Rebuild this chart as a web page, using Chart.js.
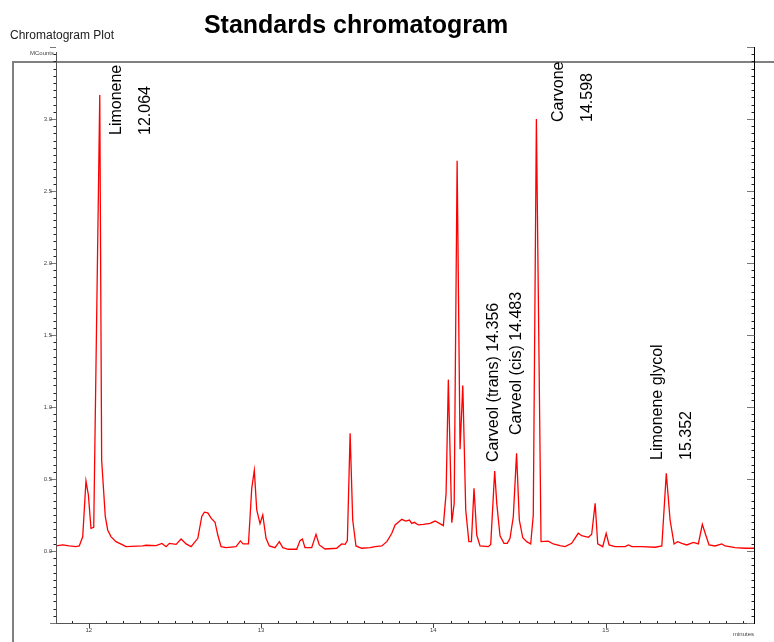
<!DOCTYPE html>
<html>
<head>
<meta charset="utf-8">
<script src="https://cdn.jsdelivr.net/npm/chart.js@4/dist/chart.umd.min.js"></script>
<style>
  html, body { margin: 0; padding: 0; background: #ffffff; }
  #wrap { width: 774px; height: 642px; position: relative; }
</style>
</head>
<body>
<div id="wrap"><canvas id="chrom" width="774" height="642"></canvas></div>
<script>
// Detector trace: retention time (minutes) and response (MCounts)
const retentionTimes = [
  11.810, 11.849, 11.886, 11.926, 11.945, 11.965, 11.984, 11.998, 12.013, 12.029,
  12.064, 12.075, 12.096, 12.110, 12.129, 12.158, 12.197, 12.216, 12.313, 12.333,
  12.391, 12.425, 12.449, 12.468, 12.507, 12.536, 12.565, 12.594, 12.633, 12.656,
  12.671, 12.691, 12.710, 12.733, 12.749, 12.768, 12.797, 12.855, 12.880, 12.896,
  12.927, 12.946, 12.961, 12.975, 12.994, 13.010, 13.029, 13.048, 13.081, 13.106,
  13.126, 13.158, 13.207, 13.226, 13.240, 13.255, 13.294, 13.319, 13.338, 13.371,
  13.439, 13.468, 13.488, 13.501, 13.517, 13.532, 13.551, 13.584, 13.633, 13.662,
  13.701, 13.730, 13.759, 13.778, 13.817, 13.840, 13.861, 13.875, 13.890, 13.913,
  13.942, 13.981, 14.010, 14.058, 14.074, 14.087, 14.107, 14.121, 14.138, 14.155,
  14.171, 14.188, 14.206, 14.221, 14.236, 14.252, 14.271, 14.319, 14.333, 14.356,
  14.368, 14.387, 14.410, 14.429, 14.445, 14.464, 14.483, 14.499, 14.519, 14.542,
  14.565, 14.580, 14.598, 14.625, 14.667, 14.696, 14.735, 14.764, 14.803, 14.841,
  14.861, 14.900, 14.919, 14.939, 14.954, 14.983, 15.003, 15.020, 15.055, 15.113,
  15.132, 15.152, 15.209, 15.287, 15.326, 15.352, 15.374, 15.397, 15.418, 15.442,
  15.471, 15.509, 15.538, 15.561, 15.581, 15.600, 15.635, 15.674, 15.693, 15.751,
  15.809, 15.861
];
const responseMCounts = [
  0.035, 0.042, 0.035, 0.030, 0.035, 0.099, 0.486, 0.389, 0.158, 0.165,
  3.167, 0.630, 0.240, 0.146, 0.100, 0.065, 0.042, 0.030, 0.035, 0.040,
  0.037, 0.053, 0.030, 0.053, 0.046, 0.083, 0.049, 0.030, 0.088, 0.240,
  0.270, 0.265, 0.228, 0.200, 0.111, 0.030, 0.023, 0.030, 0.070, 0.049,
  0.049, 0.435, 0.560, 0.285, 0.190, 0.250, 0.088, 0.035, 0.023, 0.065,
  0.023, 0.012, 0.012, 0.072, 0.083, 0.023, 0.023, 0.116, 0.042, 0.014,
  0.019, 0.049, 0.046, 0.072, 0.817, 0.215, 0.035, 0.019, 0.023, 0.030,
  0.035, 0.065, 0.123, 0.181, 0.220, 0.208, 0.215, 0.192, 0.199, 0.181,
  0.185, 0.192, 0.208, 0.176, 0.400, 1.190, 0.197, 0.331, 2.710, 0.706,
  1.150, 0.285, 0.065, 0.065, 0.435, 0.111, 0.035, 0.030, 0.046, 0.556,
  0.331, 0.106, 0.053, 0.053, 0.088, 0.238, 0.678, 0.215, 0.092, 0.065,
  0.049, 0.250, 3.000, 0.065, 0.069, 0.049, 0.037, 0.030, 0.053, 0.123,
  0.106, 0.095, 0.116, 0.331, 0.049, 0.030, 0.123, 0.042, 0.030, 0.030,
  0.042, 0.030, 0.030, 0.026, 0.035, 0.540, 0.215, 0.049, 0.065, 0.053,
  0.042, 0.060, 0.049, 0.185, 0.111, 0.042, 0.035, 0.049, 0.035, 0.023,
  0.019, 0.019
];

// Identified compounds and their retention times
const peakNames = ['Limonene', 'Carveol (trans)', 'Carveol (cis)', 'Carvone', 'Limonene glycol'];
const peakTimes = [12.064, 14.356, 14.483, 14.598, 15.352];

// Axis labels
const yTickLabels = ['0.0', '0.5', '1.0', '1.5', '2.0', '2.5', '3.0'];
const xTickLabels = ['12', '13', '14', '15'];

// Placement of each peak label: offset from the peak, bottom edge, and whether
// the retention time goes on a second column
const peakLabelStyle = [
  { dx: 21, bottom: 135, split: true },
  { dx: 3, bottom: 462, split: false },
  { dx: 4, bottom: 435, split: false },
  { dx: 27, bottom: 122, split: true },
  { dx: -4, bottom: 460, split: true }
];

const points = retentionTimes.map((t, i) => ({ x: t, y: responseMCounts[i] }));

const FONT = '"Liberation Sans", Arial, Helvetica, sans-serif';

const chromDecor = {
  id: 'chromDecor',
  afterDraw(chart) {
    const ctx = chart.ctx;
    const xs = chart.scales.x;
    const ys = chart.scales.y;
    const area = chart.chartArea;
    const L = area.left, R = area.right, T = area.top, B = area.bottom;

    ctx.save();

    // Outer frame
    ctx.strokeStyle = '#808080';
    ctx.lineWidth = 2;
    ctx.beginPath();
    ctx.moveTo(13, 642);
    ctx.lineTo(13, 62);
    ctx.lineTo(774, 62);
    ctx.stroke();

    // Headings
    ctx.fillStyle = '#000';
    ctx.font = 'bold 25px ' + FONT;
    ctx.textAlign = 'center';
    ctx.textBaseline = 'alphabetic';
    ctx.fillText('Standards chromatogram', 356, 33);
    ctx.font = '12px ' + FONT;
    ctx.textAlign = 'left';
    ctx.fillStyle = '#222';
    ctx.fillText('Chromatogram Plot', 10, 39);

    // Axis lines
    ctx.lineWidth = 1;
    ctx.strokeStyle = '#555';
    ctx.beginPath();
    ctx.moveTo(L + 0.5, 52);
    ctx.lineTo(L + 0.5, B);
    ctx.moveTo(L, B + 0.5);
    ctx.lineTo(R, B + 0.5);
    ctx.stroke();
    ctx.strokeStyle = '#000';
    ctx.beginPath();
    ctx.moveTo(R + 0.5, T);
    ctx.lineTo(R + 0.5, B + 1);
    ctx.stroke();

    // Y ticks every 0.05, longer at every 0.5
    for (let k = -10; k <= 70; k++) {
      const v = k * 0.05;
      const py = Math.round(ys.getPixelForValue(v)) + 0.5;
      const major = k % 10 === 0;
      ctx.strokeStyle = major ? '#777' : '#222';
      ctx.beginPath();
      ctx.moveTo(L - (major ? 6 : 2.5), py);
      ctx.lineTo(L, py);
      ctx.moveTo(R - (major ? 7 : 2.5), py);
      ctx.lineTo(R, py);
      ctx.stroke();
    }

    // Y tick labels
    ctx.fillStyle = '#444';
    ctx.font = '6px ' + FONT;
    ctx.textAlign = 'right';
    ctx.textBaseline = 'middle';
    yTickLabels.forEach(lbl => {
      const py = ys.getPixelForValue(parseFloat(lbl));
      ctx.fillText(lbl, L - 4, py);
    });
    ctx.textAlign = 'right';
    ctx.textBaseline = 'alphabetic';
    ctx.fillText('MCounts', L - 2, 55);

    // X ticks every 0.1 min, longer at whole minutes
    for (let k = 119; k <= 158; k++) {
      const t = k / 10;
      const px = Math.round(xs.getPixelForValue(t)) + 0.5;
      const major = k % 10 === 0;
      ctx.strokeStyle = major ? '#444' : '#222';
      ctx.beginPath();
      if (major) {
        ctx.moveTo(px, B);
        ctx.lineTo(px, B + 5);
      } else {
        ctx.moveTo(px, B - 2);
        ctx.lineTo(px, B);
      }
      ctx.stroke();
    }
    ctx.fillStyle = '#444';
    ctx.textAlign = 'center';
    ctx.textBaseline = 'middle';
    xTickLabels.forEach(lbl => {
      ctx.fillText(lbl, xs.getPixelForValue(parseFloat(lbl)), B + 7);
    });
    ctx.textAlign = 'right';
    ctx.fillText('minutes', R, B + 11);

    // Peak labels, written vertically
    ctx.fillStyle = '#000';
    ctx.font = '16px ' + FONT;
    ctx.textAlign = 'left';
    ctx.textBaseline = 'alphabetic';
    peakNames.forEach((name, i) => {
      const st = peakLabelStyle[i];
      const timeText = peakTimes[i].toFixed(3);
      const lines = st.split ? [name, timeText] : [name + ' ' + timeText];
      const px = xs.getPixelForValue(peakTimes[i]) + st.dx;
      lines.forEach((line, j) => {
        ctx.save();
        ctx.translate(px + j * 29, st.bottom);
        ctx.rotate(-Math.PI / 2);
        ctx.fillText(line, 0, 0);
        ctx.restore();
      });
    });

    ctx.restore();
  }
};

new Chart(document.getElementById('chrom'), {
  type: 'scatter',
  data: {
    datasets: [{
      data: points,
      showLine: true,
      borderColor: '#ff0000',
      borderWidth: 1.3,
      pointRadius: 0,
      tension: 0,
      fill: false
    }]
  },
  options: {
    responsive: false,
    animation: false,
    devicePixelRatio: 1,
    layout: { padding: { left: 56, right: 20, top: 47, bottom: 19 } },
    plugins: {
      legend: { display: false },
      tooltip: { enabled: false },
      title: { display: false }
    },
    scales: {
      x: { type: 'linear', min: 11.81, max: 15.861, display: false },
      y: { type: 'linear', min: -0.5, max: 3.5, display: false }
    }
  },
  plugins: [chromDecor]
});
</script>
</body>
</html>
